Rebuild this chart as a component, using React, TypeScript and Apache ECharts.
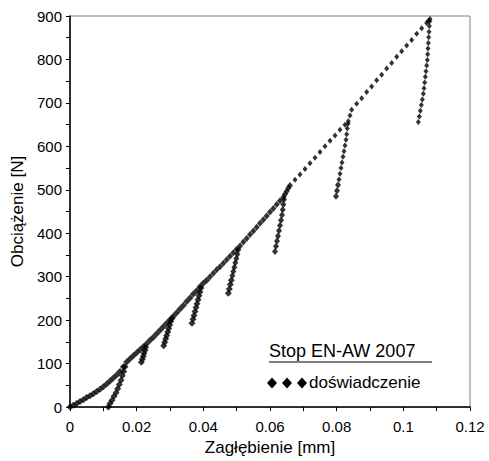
import React, { useEffect, useRef } from "react";
import * as echarts from "echarts";

const seriesName = "doświadczenie";
const boxTitle = "Stop EN-AW 2007";
const xTitle = "Zagłębienie [mm]";
const yTitle = "Obciążenie [N]";

// loading envelope [Zagłębienie mm, Obciążenie N]
const envelope: [number, number][] = [
  [0, 0], [0.001, 4], [0.002, 8], [0.003, 13], [0.004, 17], [0.005, 22], [0.006, 26], [0.007, 31],
  [0.008, 36], [0.009, 41], [0.01, 47], [0.011, 53], [0.012, 60], [0.013, 67], [0.014, 74], [0.015, 82],
  [0.016, 93], [0.017, 104], [0.018, 111], [0.019, 118], [0.02, 125], [0.021, 132], [0.022, 139],
  [0.023, 146], [0.024, 154], [0.025, 161], [0.026, 169], [0.027, 177], [0.028, 185], [0.029, 193],
  [0.03, 201], [0.031, 209], [0.032, 217], [0.033, 226], [0.034, 234], [0.035, 243], [0.036, 251],
  [0.037, 260], [0.038, 268], [0.039, 277], [0.04, 285], [0.041, 292], [0.042, 300], [0.043, 308],
  [0.044, 316], [0.045, 323], [0.046, 331], [0.047, 339], [0.048, 347], [0.049, 355], [0.05, 363],
  [0.051, 371], [0.052, 380], [0.053, 388], [0.054, 397], [0.055, 405], [0.056, 414], [0.057, 423],
  [0.058, 431], [0.059, 440], [0.06, 449], [0.061, 457], [0.062, 466], [0.063, 475], [0.064, 483],
  [0.0645, 490], [0.065, 497], [0.0655, 504], [0.066, 510], [0.0675, 523], [0.069, 535], [0.0705, 548],
  [0.072, 561], [0.0735, 574], [0.075, 587], [0.0765, 600], [0.078, 613], [0.0795, 625], [0.081, 638],
  [0.0825, 650], [0.0835, 658], [0.084, 671], [0.0845, 684], [0.086, 698], [0.0875, 711], [0.089, 725],
  [0.0905, 738], [0.092, 752], [0.0935, 765], [0.095, 779], [0.0965, 792], [0.098, 806], [0.0995, 819],
  [0.101, 832], [0.1025, 845], [0.104, 859], [0.1055, 872], [0.107, 884], [0.1075, 889], [0.108, 893],
];

// unloading / reloading legs
const leg1: [number, number][] = [
  [0.0115, 0], [0.012, 8], [0.0126, 16], [0.0132, 25], [0.0138, 33], [0.0143, 42], [0.0148, 52],
  [0.0153, 62], [0.0157, 72], [0.0161, 82], [0.0165, 93],
];
const leg2: [number, number][] = [
  [0.0214, 103], [0.0217, 110], [0.022, 117], [0.0222, 124], [0.0225, 131], [0.0227, 138],
];
const leg3: [number, number][] = [
  [0.0281, 141], [0.0284, 149], [0.0287, 157], [0.029, 165], [0.0293, 173], [0.0296, 181],
  [0.0299, 189], [0.0302, 197], [0.0306, 204],
];
const leg4: [number, number][] = [
  [0.0366, 193], [0.0369, 202], [0.0372, 211], [0.0375, 220], [0.0378, 229], [0.0381, 238],
  [0.0384, 247], [0.0387, 256], [0.039, 265], [0.0393, 274],
];
const leg5: [number, number][] = [
  [0.0475, 262], [0.0478, 272], [0.0481, 282], [0.0484, 292], [0.0487, 302], [0.049, 312],
  [0.0493, 322], [0.0496, 332], [0.0499, 342], [0.0502, 352], [0.0505, 362],
];
const leg6: [number, number][] = [
  [0.0615, 358], [0.0618, 370], [0.0621, 382], [0.0624, 394], [0.0627, 406], [0.063, 418],
  [0.0633, 430], [0.0636, 442], [0.0638, 454], [0.064, 466], [0.0642, 478],
];
const leg7: [number, number][] = [
  [0.0798, 485], [0.0801, 498], [0.0804, 511], [0.0807, 524], [0.081, 537], [0.0813, 550],
  [0.0816, 563], [0.0819, 576], [0.0822, 589], [0.0825, 602], [0.0828, 615], [0.083, 628],
  [0.0832, 641], [0.0834, 652],
];
const leg8: [number, number][] = [
  [0.1045, 656], [0.1048, 669], [0.1051, 682], [0.1054, 695], [0.1057, 708], [0.106, 721],
  [0.1062, 734], [0.1064, 747], [0.1066, 760], [0.1068, 773], [0.107, 786], [0.1072, 799],
  [0.1073, 812], [0.1074, 825], [0.1075, 838], [0.1076, 851], [0.1077, 864], [0.1078, 877],
  [0.1079, 888],
];

const FONT = "'Liberation Sans', Arial, sans-serif";

export default function App() {
  const ref = useRef<HTMLDivElement>(null);
  useEffect(() => {
    if (!ref.current) return;
    const chart = echarts.init(ref.current, undefined, { renderer: "svg" });
    const allPoints = [...envelope, ...leg1, ...leg2, ...leg3, ...leg4, ...leg5, ...leg6, ...leg7, ...leg8];
    const diamond = (cx: number, cy: number) => ({
      type: "polygon",
      shape: { points: [[cx, cy - 5.5], [cx + 5, cy], [cx, cy + 5.5], [cx - 5, cy]] },
      style: { fill: "#000" },
      silent: true,
    });
    chart.setOption({
      animation: false,
      backgroundColor: "#fff",
      textStyle: { fontFamily: FONT },
      grid: {
        left: 70, right: 19, top: 16, bottom: 47,
        show: true, borderColor: "#808080", borderWidth: 1, backgroundColor: "transparent",
      },
      xAxis: {
        type: "value", min: 0, max: 0.12, interval: 0.01,
        axisLine: { show: true, onZero: false, lineStyle: { color: "#000", width: 1.5 } },
        axisTick: { show: true, inside: false, length: 4, lineStyle: { color: "#000" } },
        axisLabel: {
          color: "#000", fontSize: 15, fontFamily: FONT, margin: 12,
          formatter: (v: number) => {
            const k = Math.round(v * 100);
            return k % 2 === 0 ? String(k / 100) : "";
          },
        },
        splitLine: { show: false },
        name: xTitle, nameLocation: "middle", nameGap: 27,
        nameTextStyle: { color: "#000", fontSize: 17, fontFamily: FONT },
      },
      yAxis: {
        type: "value", min: 0, max: 900, interval: 50,
        axisLine: { show: true, lineStyle: { color: "#000", width: 1.5 } },
        axisTick: { show: true, inside: false, length: 4, lineStyle: { color: "#000" } },
        axisLabel: {
          color: "#000", fontSize: 15, fontFamily: FONT, margin: 8,
          formatter: (v: number) => (Math.round(v) % 100 === 0 ? String(Math.round(v)) : ""),
        },
        splitLine: { show: false },
        name: yTitle, nameLocation: "middle", nameGap: 35,
        nameTextStyle: { color: "#000", fontSize: 17, fontFamily: FONT },
      },
      series: [
        {
          name: seriesName,
          type: "scatter",
          data: allPoints,
          symbol: "diamond",
          symbolSize: (v: number[]) => (v[1] < 300 ? [7, 7] : v[1] < 520 ? [6, 7] : [5, 6]),
          itemStyle: { color: "#000" },
          silent: true,
        },
      ],
      graphic: [
        {
          type: "text", left: 269, top: 342, silent: true,
          style: { text: boxTitle, fill: "#000", font: `18px ${FONT}` },
        },
        {
          type: "line", silent: true,
          shape: { x1: 269, y1: 362, x2: 432, y2: 362 },
          style: { stroke: "#000", lineWidth: 1 },
        },
        diamond(272, 383),
        diamond(287, 383),
        diamond(302, 383),
        {
          type: "text", left: 309, top: 374, silent: true,
          style: { text: seriesName, fill: "#000", font: `17px ${FONT}` },
        },
      ],
    });
    return () => chart.dispose();
  }, []);
  return (
    <div
      ref={ref}
      style={{ position: "fixed", left: 0, top: 0, width: 489, height: 461, background: "#fff" }}
    />
  );
}
